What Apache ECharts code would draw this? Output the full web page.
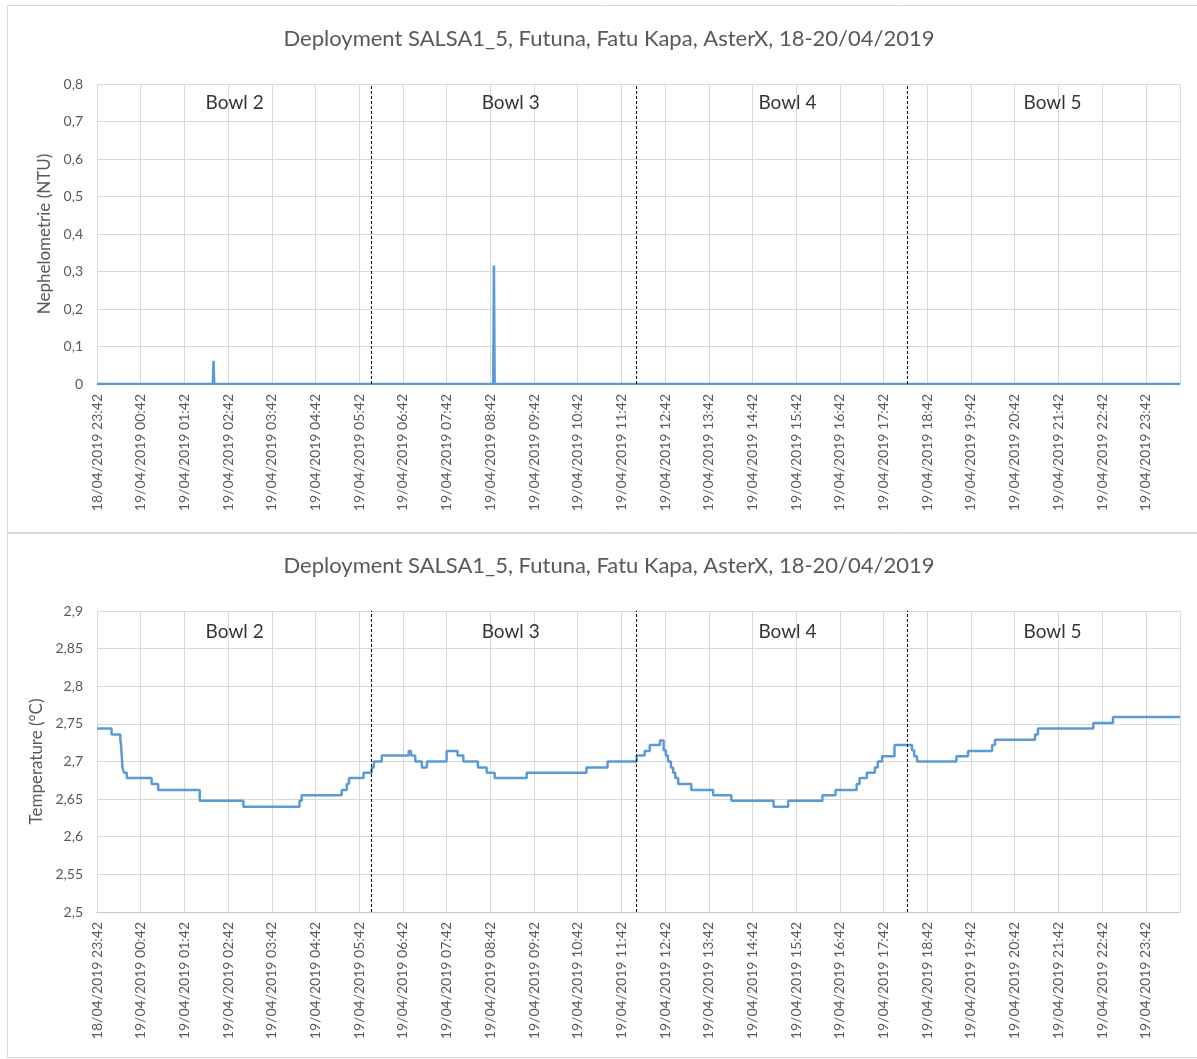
<!DOCTYPE html>
<html>
<head>
<meta charset="utf-8">
<title>Deployment SALSA1_5</title>
<script src="https://cdn.jsdelivr.net/npm/echarts@6.0.0/dist/echarts.min.js"></script>
<style>
  html, body { margin: 0; padding: 0; background: #ffffff; }
  #chart { width: 1197px; height: 1059px; }
</style>
</head>
<body>
<div id="chart"></div>
<script>
// ---- data -------------------------------------------------------------
const chartTitle = 'Deployment SALSA1_5, Futuna, Fatu Kapa, AsterX, 18-20/04/2019';

// hourly tick labels, one every 60 minutes from the first record
const hourLabels = [
  '18/04/2019 23:42', '19/04/2019 00:42', '19/04/2019 01:42', '19/04/2019 02:42',
  '19/04/2019 03:42', '19/04/2019 04:42', '19/04/2019 05:42', '19/04/2019 06:42',
  '19/04/2019 07:42', '19/04/2019 08:42', '19/04/2019 09:42', '19/04/2019 10:42',
  '19/04/2019 11:42', '19/04/2019 12:42', '19/04/2019 13:42', '19/04/2019 14:42',
  '19/04/2019 15:42', '19/04/2019 16:42', '19/04/2019 17:42', '19/04/2019 18:42',
  '19/04/2019 19:42', '19/04/2019 20:42', '19/04/2019 21:42', '19/04/2019 22:42',
  '19/04/2019 23:42'
];

// record length in minutes since 18/04/2019 23:42
const spanMinutes = 1487;

// bowl changes (minutes since start)
const bowlBoundaries = [376, 741, 1113];
const bowlNames = ['Bowl 2', 'Bowl 3', 'Bowl 4', 'Bowl 5'];
const bowlLabelMinutes = [189, 568, 948, 1312];

// nephelometry (NTU): [minute, value]
const nephelometry = [
  [0, 0], [159, 0], [160, 0.062], [161, 0],
  [544, 0], [545, 0.316], [546, 0], [1487, 0]
];

// temperature (°C): [minute, value] at each change of reading
const temperature = [
  [0, 2.744], [20, 2.736], [32, 2.729], [33, 2.722], [34, 2.707], [35, 2.692],
  [37, 2.685], [41, 2.678], [75, 2.670], [84, 2.662], [141, 2.648], [201, 2.640],
  [278, 2.648], [281, 2.655], [336, 2.662], [343, 2.670], [346, 2.678], [366, 2.685],
  [377, 2.692], [380, 2.700], [391, 2.708], [428, 2.714], [431, 2.708], [437, 2.700],
  [446, 2.692], [453, 2.700], [480, 2.714], [495, 2.708], [503, 2.700], [523, 2.692],
  [535, 2.685], [546, 2.678], [590, 2.685], [672, 2.692], [701, 2.700], [741, 2.708],
  [752, 2.714], [759, 2.722], [773, 2.728], [778, 2.715], [781, 2.708], [784, 2.700],
  [788, 2.692], [791, 2.685], [794, 2.678], [798, 2.670], [816, 2.662], [846, 2.655],
  [871, 2.648], [929, 2.640], [949, 2.648], [996, 2.655], [1014, 2.662], [1043, 2.670],
  [1047, 2.678], [1057, 2.685], [1068, 2.692], [1072, 2.700], [1078, 2.707], [1095, 2.722],
  [1119, 2.715], [1122, 2.707], [1126, 2.700], [1180, 2.707], [1196, 2.714], [1229, 2.722],
  [1233, 2.729], [1288, 2.736], [1292, 2.744], [1368, 2.751], [1395, 2.759], [1487, 2.759]
];

// ---- styling helpers --------------------------------------------------
const FONT = 'Lato, "Liberation Sans", sans-serif';
const GREY_TEXT = '#595959';
const GRID_COLOR = '#d9d9d9';
const LINE_COLOR = '#5b9bd5';

const commaNumber = v => String(+(+v).toFixed(3)).replace('.', ',');

function hourLabel(v) {
  const i = Math.round(v / 60);
  if (Math.abs(v - i * 60) > 0.01) return '';
  return hourLabels[i] || '';
}

function timeAxis(gridIndex) {
  return {
    type: 'value',
    gridIndex,
    min: 0,
    max: spanMinutes,
    interval: 60,
    axisLine: { show: true, lineStyle: { color: '#c8c8c8', width: 1 } },
    axisTick: { show: false },
    axisLabel: {
      rotate: 90,
      margin: 10,
      color: GREY_TEXT,
      fontFamily: FONT,
      fontSize: 14,
      showMaxLabel: false,
      formatter: hourLabel
    },
    splitLine: { show: true, lineStyle: { color: GRID_COLOR, width: 1 } }
  };
}

function valueAxis(gridIndex, min, max, interval, name, nameGap) {
  return {
    type: 'value',
    gridIndex,
    min, max, interval,
    name,
    nameLocation: 'middle',
    nameGap,
    nameTextStyle: { color: GREY_TEXT, fontFamily: FONT, fontSize: 17 },
    axisLine: { show: false },
    axisTick: { show: false },
    axisLabel: { color: GREY_TEXT, fontFamily: FONT, fontSize: 14, margin: 14, formatter: commaNumber },
    splitLine: { show: true, lineStyle: { color: GRID_COLOR, width: 1 } }
  };
}

function dividers() {
  return {
    silent: true,
    symbol: 'none',
    label: { show: false },
    lineStyle: { color: '#000000', type: [3, 2], width: 1 },
    data: bowlBoundaries.map(m => ({ xAxis: m }))
  };
}

function bowlLabels(axisIndex, y) {
  return {
    type: 'scatter',
    xAxisIndex: axisIndex,
    yAxisIndex: axisIndex,
    symbolSize: 0,
    silent: true,
    z: 5,
    label: {
      show: true,
      position: 'inside',
      formatter: p => p.name,
      color: '#000000',
      fontFamily: FONT,
      fontSize: 19
    },
    data: bowlNames.map((n, i) => ({ name: n, value: [bowlLabelMinutes[i], y] }))
  };
}

const chart = echarts.init(document.getElementById('chart'), null, { renderer: 'canvas' });

chart.setOption({
  animation: false,
  backgroundColor: '#ffffff',
  graphic: [
    { type: 'rect', shape: { x: 7.5, y: 5.5, width: 1200, height: 527 },
      style: { fill: 'none', stroke: GRID_COLOR, lineWidth: 1 }, silent: true, z: -10 },
    { type: 'rect', shape: { x: 7.5, y: 533.5, width: 1200, height: 524 },
      style: { fill: 'none', stroke: GRID_COLOR, lineWidth: 1 }, silent: true, z: -10 }
  ],
  title: [
    { text: chartTitle, left: 604, top: 23, textAlign: 'center',
      textStyle: { color: GREY_TEXT, fontFamily: FONT, fontSize: 22, fontWeight: 'normal' } },
    { text: chartTitle, left: 604, top: 550, textAlign: 'center',
      textStyle: { color: GREY_TEXT, fontFamily: FONT, fontSize: 22, fontWeight: 'normal' } }
  ],
  grid: [
    { left: 97, top: 84, width: 1083, height: 300, outerBoundsMode: 'none' },
    { left: 97, top: 611, width: 1083, height: 301, outerBoundsMode: 'none' }
  ],
  xAxis: [timeAxis(0), timeAxis(1)],
  yAxis: [
    valueAxis(0, 0, 0.8, 0.1, 'Nephelometrie (NTU)', 41),
    valueAxis(1, 2.5, 2.9, 0.05, 'Temperature (°C)', 48)
  ],
  series: [
    {
      type: 'line',
      xAxisIndex: 0,
      yAxisIndex: 0,
      data: nephelometry,
      showSymbol: false,
      lineStyle: { color: LINE_COLOR, width: 2.5 },
      itemStyle: { color: LINE_COLOR },
      markLine: dividers(),
      z: 3
    },
    {
      type: 'line',
      xAxisIndex: 1,
      yAxisIndex: 1,
      data: temperature,
      step: 'end',
      showSymbol: false,
      lineStyle: { color: LINE_COLOR, width: 2.5 },
      itemStyle: { color: LINE_COLOR },
      markLine: dividers(),
      z: 3
    },
    bowlLabels(0, 0.75),
    bowlLabels(1, 2.872)
  ]
});
</script>
</body>
</html>
